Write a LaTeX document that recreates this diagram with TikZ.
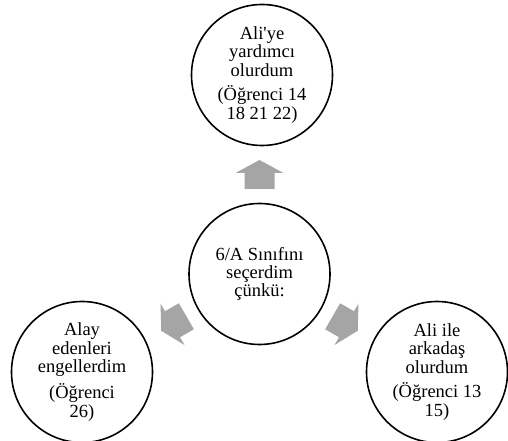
\documentclass[tikz,border=0pt]{standalone}
\usepackage{fontspec}
\setmainfont{Liberation Serif}[Ligatures=TeXOff]
\begin{document}
\begin{tikzpicture}[x=1pt,y=1pt,
  bubble/.style={draw=black, line width=1.6pt, circle, minimum size=141pt, inner sep=0pt,
    align=center, font=\fontsize{18.5}{18.3}\selectfont},
  blockarrow/.style={fill=arrowgray, draw=none}]
\definecolor{arrowgray}{HTML}{A5A5A5}
\useasboundingbox (0,0) rectangle (508,441);
\node[bubble] (top) at (262,366) {Ali'ye\\yardımcı\\olurdum\\[6.5pt](Öğrenci 14\\18 21 22)};
\node[bubble] (mid) at (259.5,167) {6/A Sınıfını\\seçerdim\\çünkü:};
\node[bubble] (left) at (82,69) {Alay\\edenleri\\engellerdim\\[6.5pt](Öğrenci\\26)};
\node[bubble] (right) at (437,69) {Ali ile\\arkadaş\\olurdum\\[6.5pt](Öğrenci 13\\15)};
\foreach \cx/\cy/\ang in {259.5/266.5/0, 173.8/117.5/120, 345.2/117.5/-120}{
  \fill[blockarrow, shift={(\cx,\cy)}, rotate=\ang]
    (0,14.5) -- (24,1.5) -- (15,1.5) -- (15,-14.5) -- (-15,-14.5) -- (-15,1.5) -- (-24,1.5) -- cycle;
}
\end{tikzpicture}
\end{document}
